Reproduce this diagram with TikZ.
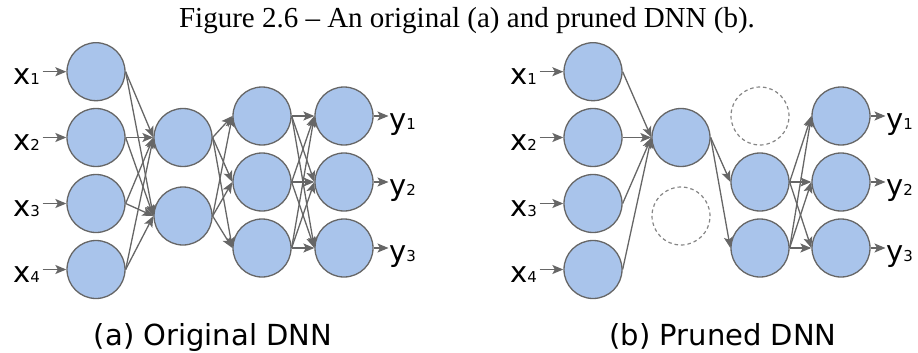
\documentclass[tikz,border=0pt]{standalone}
\usepackage{fontspec}
\setmainfont{DejaVu Sans}
\newfontfamily\titlefont{Liberation Serif}
\usetikzlibrary{arrows.meta}
\definecolor{nfill}{HTML}{A9C4EB}
\definecolor{nline}{HTML}{666666}
\newcommand\nnlab[2]{{\fontsize{29}{29}\selectfont #1}{\fontsize{15}{15}\selectfont #2}}
\begin{document}
\begin{tikzpicture}[x=1pt,y=-1pt,
  neuron/.style={circle,draw=nline,fill=nfill,line width=1.3pt,minimum size=58pt,inner sep=0pt},
  pruned/.style={circle,draw=nline!80,dash pattern=on 3.5pt off 3pt,line width=1.2pt,minimum size=58pt,inner sep=0pt},
  edge/.style={draw=nline,line width=1.3pt,-{Stealth[length=11pt,width=9pt,inset=2.5pt]}},
  lab/.style={inner sep=0pt,anchor=base west},
  captext/.style={font=\fontsize{29}{29}\selectfont,anchor=base,inner sep=0pt}]
\useasboundingbox (0,0) rectangle (918,353);
\node[anchor=base,font=\titlefont\fontsize{29}{29}\selectfont,inner sep=0pt] (title) at (467,28) {Figure 2.6 – An original (a) and pruned DNN (b).};
% ---- (a) original
\foreach \i/\y in {1/71.7,2/137.5,3/203.5,4/269.5}{
  \node[neuron] (a1\i) at (96,\y) {};
  \node[neuron] (b1\i) at (593,\y) {};
  \node[lab] (ax\i) at (13,\y+12.5) {\nnlab{x}{\i}};
  \node[lab] (bx\i) at (510,\y+12.5) {\nnlab{x}{\i}};
}
\node[neuron] (a21) at (183,137.5) {};
\node[neuron] (a22) at (183,216) {};
\node[neuron] (b21) at (681,137.5) {};
\node[pruned] (bp2) at (681,216) {};
\foreach \i/\y in {1/116,2/182,3/248}{
  \node[neuron] (a3\i) at (262,\y) {};
  \node[neuron] (a4\i) at (344,\y) {};
  \node[neuron] (b4\i) at (841,\y) {};
  \node[lab] (ay\i) at (389,\y+13) {\nnlab{y}{\i}};
  \node[lab] (by\i) at (886,\y+13) {\nnlab{y}{\i}};
}
\node[pruned] (bp3) at (760,116) {};
\node[neuron] (b32) at (760,182) {};
\node[neuron] (b33) at (760,248) {};
% edges (a)
\foreach \i in {1,...,4}{
  \draw[edge] ([xshift=2.5pt]ax\i.east |- a1\i.west) -- (a1\i.west);
  \draw[edge] ([xshift=2.5pt]bx\i.east |- b1\i.west) -- (b1\i.west);
  \foreach \j in {1,2}{\draw[edge] (a1\i.east) -- (a2\j.west);}
  \draw[edge] (b1\i.east) -- (b21.west);
}
\foreach \i in {1,2}{\foreach \j in {1,2,3}{\draw[edge] (a2\i.east) -- (a3\j.west);}}
\foreach \i in {1,2,3}{
  \foreach \j in {1,2,3}{\draw[edge] (a3\i.east) -- (a4\j.west);}
  \draw[edge] (a4\i.east) -- ([xshift=-0.5pt]ay\i.west |- a4\i.east);
  \draw[edge] (b4\i.east) -- ([xshift=-0.5pt]by\i.west |- b4\i.east);
}
% edges (b)
\draw[edge] (b21.east) -- (b32.west);
\draw[edge] (b21.east) -- (b33.west);
\foreach \i in {2,3}{\foreach \j in {1,2,3}{\draw[edge] (b3\i.east) -- (b4\j.west);}}
\node[captext] (capa) at (213,345) {(a) Original DNN};
\node[captext] (capb) at (723,345) {(b) Pruned DNN};
\end{tikzpicture}
\end{document}
